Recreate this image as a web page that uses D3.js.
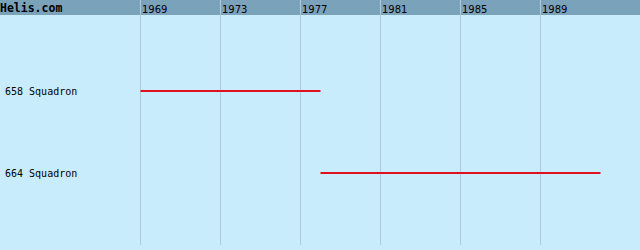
<!DOCTYPE html>
<meta charset="utf-8">
<script src="https://d3js.org/d3.v7.min.js"></script>
<div id="chart"></div>
<style>
	body {
		margin: 0;
		padding: 0;
		background-color: #c8ecfc;
		overflow: hidden;
	}
</style>
<script>
	const units = ["658 Squadron", "664 Squadron"];
	const startYears = [1969, 1978];
	const endYears = [1978, 1992];
	const tickYears = [1969, 1973, 1977, 1981, 1985, 1989];

	const WIDTH = 640, HEIGHT = 250;

	const svg = d3.select("#chart").append("svg")
		.attr("width", WIDTH)
		.attr("height", HEIGHT)
		.style("display", "block");

	svg.append("rect")
		.attr("width", WIDTH).attr("height", HEIGHT)
		.attr("fill", "#c8ecfc");

	const x = d3.scaleLinear().domain([1969, 1989]).range([140.5, 540.5]);
	const y = d3.scalePoint().domain(units).range([91, 173]);

	// header band
	svg.append("rect")
		.attr("width", WIDTH).attr("height", 15)
		.attr("fill", "#7aa2ba");

	svg.append("text")
		.attr("x", 0).attr("y", 12)
		.attr("font-family", "DejaVu Sans Mono")
		.attr("font-weight", "bold")
		.attr("font-size", 11.5)
		.attr("fill", "#000")
		.text("Helis.com");

	// grid + year labels
	const axis = d3.axisTop(x).tickValues(tickYears).tickFormat(d3.format("d"))
		.tickSize(0).tickPadding(0);
	const gAxis = svg.append("g").call(axis);
	gAxis.select(".domain").remove();
	gAxis.selectAll("text")
		.attr("text-anchor", "start")
		.attr("x", 1)
		.attr("y", 13)
		.attr("font-family", "DejaVu Sans")
		.attr("font-size", 10)
		.attr("fill", "#000");

	svg.append("g").selectAll("line")
		.data(tickYears)
		.join("line")
		.attr("x1", d => x(d)).attr("x2", d => x(d))
		.attr("y1", 0).attr("y2", 245)
		.attr("stroke", "#b2cad6")
		.attr("stroke-width", 1);

	// unit labels
	svg.append("g").selectAll("text")
		.data(units)
		.join("text")
		.attr("x", 5)
		.attr("y", d => y(d) + 4)
		.attr("font-family", "DejaVu Sans Mono")
		.attr("font-size", 10)
		.attr("fill", "#000")
		.text(d => d);

	// service bars
	svg.append("g").selectAll("line")
		.data(units)
		.join("line")
		.attr("x1", (d, i) => x(startYears[i]))
		.attr("x2", (d, i) => x(endYears[i]))
		.attr("y1", d => y(d))
		.attr("y2", d => y(d))
		.attr("stroke", "#e0101c")
		.attr("stroke-width", 2);
</script>
